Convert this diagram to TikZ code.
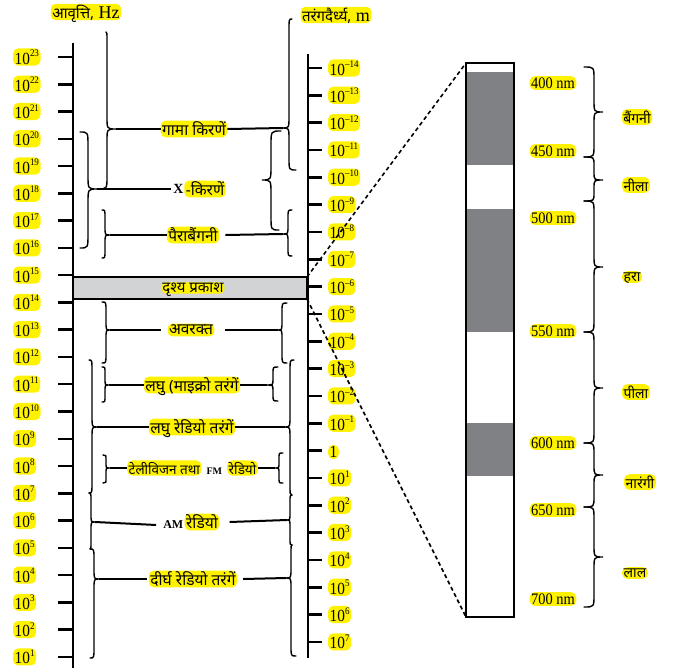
\documentclass[tikz,border=0pt]{standalone}
\usepackage{fontspec}
\usetikzlibrary{calc}
\setmainfont{Liberation Serif}
\newfontfamily\dev[Script=Devanagari]{Noto Sans}
\newfontfamily\num[FakeStretch=0.9]{Liberation Serif}
\definecolor{hly}{RGB}{255,242,0}
\definecolor{bandgray}{RGB}{209,211,212}
\definecolor{stripgray}{RGB}{128,129,133}
\newcommand{\brc}[8]{%
 \draw[brc] (#1,#5) .. controls (#3,#5) .. (#3,#5+#8) -- (#3,#6-#8) .. controls (#3,#6) .. (#4,#6) .. controls (#3,#6) .. (#3,#6+#8) -- (#3,#7-#8) .. controls (#3,#7) .. (#2,#7);}
\newcommand{\pw}[1]{10\raisebox{7.5pt}{\fontsize{10}{10}\selectfont #1}}
\tikzset{
 hl/.style={fill=hly, rounded corners=5pt, inner sep=1.5pt, text depth=0pt},
 brc/.style={line width=1.4pt, line cap=round},
 conn/.style={line width=2pt},
 axis/.style={line width=2.5pt},
 tick/.style={line width=2.5pt},
 numlab/.style={hl, font=\num\fontsize{17}{17}\selectfont},
 devlab/.style={hl, font=\dev\fontsize{15.5}{15.5}\selectfont},
 tvlab/.style={hl, font=\dev\fontsize{13.5}{13.5}\selectfont},
 collab/.style={hl, font=\dev\fontsize{14}{14}\selectfont},
 nmlab/.style={hl, font=\num\fontsize{16}{16}\selectfont},
}
\begin{document}
\begin{tikzpicture}[x=1pt,y=-1pt]
\useasboundingbox (0,0) rectangle (681,672);
% headers
\node[hl, font=\fontsize{18}{18}\selectfont] (hfreq) at (86,12) {{\dev\fontsize{15}{15}\selectfont आवृत्ति,} Hz};
\node[hl, font=\fontsize{18}{18}\selectfont] (hwave) at (336,15) {{\dev\fontsize{15}{15}\selectfont तरंगदैर्ध्य,} m};
% left axis
\draw[axis] (73,43) coordinate (la1) -- (73,668) coordinate (la2);
\foreach \n [count=\i from 0] in {23,22,21,20,19,18,17,16,15,14,13,12,11,10,9,8,7,6,5,4,3,2,1}{
  \pgfmathsetmacro{\yy}{57+27.27*\i}
  \draw[tick] (58,\yy) -- (73,\yy);
  \node[numlab, anchor=base west] (f\i) at (13,\yy+7) {\pw{\n}};
}
% right axis
\draw[axis] (308,54) coordinate (ra1) -- (308,658) coordinate (ra2);
\foreach \i in {0,...,21}{
  \pgfmathsetmacro{\yy}{68+27.33*\i}
  \draw[tick] (308,\yy) -- (322,\yy);
}
\foreach \n [count=\i from 0] in {–14,–13,–12,–11,–10,–9,–8,–7,–6,–5,–4,–3,–2,–1}{
  \pgfmathsetmacro{\yy}{68+27.33*\i}
  \node[numlab, anchor=base west] (w\i) at (328,\yy+7) {\pw{\n}};
}
\node[numlab, anchor=base west] (w14) at (328,450.6+7) {1};
\foreach \n [count=\i from 15] in {1,2,3,4,5,6,7}{
  \pgfmathsetmacro{\yy}{68+27.33*\i}
  \node[numlab, anchor=base west] (w\i) at (328,\yy+7) {\pw{\n}};
}
% visible band
\draw[line width=1.2pt, fill=bandgray] (73,277) coordinate (bTL) rectangle (307,299) coordinate (bBR);
\coordinate (bTR) at (307,277);
\coordinate (bBL) at (307,299);
\node[hl, font=\dev\bfseries\fontsize{15}{15}\selectfont, inner sep=1pt] (vis) at (193,288) {दृश्य प्रकाश};
% braces (left / right)
\brc{106}{97}{107}{116}{32}{129}{189}{12}
\brc{292}{296}{289}{283}{19}{128}{170}{12}
\brc{80}{80}{88}{97}{132}{189}{248}{14}
\brc{281}{279}{271}{262}{131}{180}{230}{14}
\brc{102}{102}{105}{110}{210}{235}{258}{8}
\brc{292}{292}{288}{283}{210}{234}{256}{8}
\brc{102}{102}{106}{110}{302}{330}{363}{9}
\brc{287}{287}{282}{278}{303}{330}{363}{9}
\brc{102}{102}{105}{109}{367}{385}{402}{6}
\brc{278}{278}{273}{267}{367}{385}{401}{6}
\brc{89}{89}{92}{97}{360}{427}{493}{12}
\brc{294}{292}{290}{285}{360}{427}{495}{12}
\brc{103}{103}{106}{110}{455}{468}{483}{5}
\brc{283}{283}{279}{275}{453}{468}{483}{5}
\brc{89}{90}{91}{95}{493}{522}{549}{8}
\brc{292}{292}{290}{287}{495}{520}{545}{8}
\brc{90}{90}{94}{99}{549}{579}{658}{10}
\brc{292}{296}{291}{286}{545}{578}{656}{10}
% tip coordinates
\coordinate (gL) at (116,129); \coordinate (gR) at (283,128);
\coordinate (xL) at (97,189);
\coordinate (uL) at (110,235); \coordinate (uR) at (283,234);
\coordinate (iL) at (110,330); \coordinate (iR) at (278,330);
\coordinate (mL) at (109,385); \coordinate (mR) at (267,385);
\coordinate (sL) at (97,427); \coordinate (sR) at (285,427);
\coordinate (tL) at (110,468); \coordinate (tR) at (275,468);
\coordinate (aL) at (95,522); \coordinate (aR) at (287,520);
\coordinate (lL) at (99,579); \coordinate (lR) at (286,578);
% labels
\node[devlab] (gam) at (194,129) {गामा किरणें};
\node[devlab] (xr) at (205,189) {-किरणें};
\node[anchor=east, inner sep=0.5pt, font=\bfseries\fontsize{14}{14}\selectfont] (xrX) at (xr.west) {X};
\node[devlab] (uv) at (193,235) {पैराबैंगनी};
\node[devlab] (ir) at (191,330) {अवरक्त};
\node[devlab] (mw) at (192,385) {लघु (माइक्रो तरंगें};
\node[devlab] (sr) at (192,427) {लघु रेडियो तरंगें};
\node[tvlab, anchor=west] (tv1) at (127,468) {टेलीविजन तथा};
\node[tvlab, anchor=east] (tv2) at (258,468) {रेडियो};
\node[anchor=base, inner sep=1pt, font=\bfseries\fontsize{10}{10}\selectfont] (tvfm) at ($(tv1.base east)!0.5!(tv2.base west)$) {FM};
\node[devlab] (am) at (202,522) {रेडियो};
\node[anchor=base east, inner sep=1pt, font=\bfseries\fontsize{12}{12}\selectfont] (amA) at (am.base west) {AM};
\node[devlab] (lr) at (193,579) {दीर्घ रेडियो तरंगें};
% connectors
\draw[conn] (gL) -- (gam.west); \draw[conn] (gam.east) -- (gR);
\draw[conn] (xL) -- ([xshift=-2pt]xrX.west);
\draw[conn] (uL) -- (uv.west); \draw[conn] ([xshift=6pt]uv.east) -- (uR);
\draw[conn] (iL) -- ([xshift=-6pt]ir.west); \draw[conn] ([xshift=10pt]ir.east) -- (iR);
\draw[conn] (mL) -- (mw.west); \draw[conn] (mw.east) -- (mR);
\draw[conn] (sL) -- (sr.west); \draw[conn] (sr.east) -- (sR);
\draw[conn] (tL) -- (tv1.west); \draw[conn] (tv2.east) -- (tR);
\draw[conn] (aL) -- ([xshift=-6pt]amA.west); \draw[conn] ([xshift=10pt]am.east) -- (aR);
\draw[conn] (lL) -- ([xshift=-2pt]lr.west); \draw[conn] ([xshift=6pt]lr.east) -- (lR);
% strip
\fill[stripgray] (466,72) rectangle (514,165);
\fill[stripgray] (466,209) rectangle (514,332);
\fill[stripgray] (466,423) rectangle (514,476);
\draw[line width=1.6pt] (466,63) coordinate (sTL) rectangle (514,617);
\coordinate (sBL) at (466,617);
\draw[line width=1.6pt, dash pattern=on 4pt off 3pt] (bTR) -- (sTL);
\draw[line width=1.6pt, dash pattern=on 4pt off 3pt] (bBL) -- (sBL);
% nm labels
\foreach \t/\yy [count=\i] in {400/83,450/151,500/218,550/331,600/443,650/510,700/599}{
  \node[nmlab] (nm\i) at (553,\yy) {\t\ nm};
}
% spectrum braces
\brc{584}{584}{594}{603}{67}{112}{157}{12}
\brc{584}{584}{594}{603}{157}{180}{201}{8}
\brc{584}{584}{594}{603}{201}{267}{332}{12}
\brc{584}{584}{594}{603}{332}{388}{443}{12}
\brc{584}{584}{594}{603}{443}{475}{507}{10}
\brc{584}{584}{594}{603}{507}{557}{607}{12}
\node[collab] (cv) at (637,117) {बैंगनी};
\node[collab] (cb) at (636,185) {नीला};
\node[collab] (cg) at (632,277) {हरा};
\node[collab] (cy) at (636,392) {पीला};
\node[collab] (co) at (640,482) {नारंगी};
\node[collab] (cr) at (635,573) {लाल};
\end{tikzpicture}
\end{document}
